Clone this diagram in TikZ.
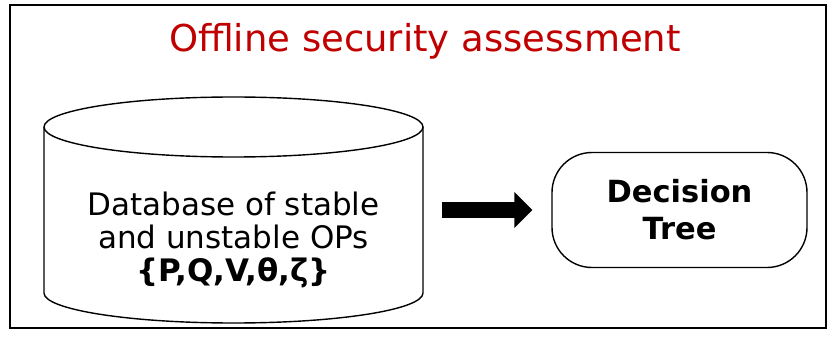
\documentclass[tikz,border=0pt]{standalone}
\usepackage{fontspec}
\setmainfont{DejaVu Sans}
\usetikzlibrary{arrows.meta}
\definecolor{titlered}{HTML}{C00000}
\tikzset{
  frame/.style={draw=black, line width=1.5pt},
  outline/.style={draw=black, line width=1.4pt},
  bodytext/.style={align=center, font=\fontsize{31}{33}\selectfont, inner sep=0pt},
  boldtext/.style={align=center, font=\fontsize{30.5}{37}\selectfont\bfseries, inner sep=0pt},
  bigarrow/.style={line width=16pt, -{Triangle[length=18pt,width=35pt]}},
}
\begin{document}
\begin{tikzpicture}[x=1pt,y=-1pt]
\useasboundingbox (0,0) rectangle (833,339);
% outer frame
\draw[frame] (10,5) rectangle (826,328);
% title
\node[text=titlered, font=\fontsize{37}{42}\selectfont, anchor=base] (title) at (425,52) {Offline security assessment};
% database cylinder: body with front arc of the base, then the top ellipse
\draw[outline, fill=white] (44,127) -- (44,293) arc[start angle=180, end angle=0, x radius=189.5, y radius=30] -- (423,127);
\draw[outline, fill=white] (233.5,127) ellipse[x radius=189.5, y radius=30];
\coordinate (cylE) at (423,210);
\node[bodytext] (db) at (233.5,240) {Database of stable\\and unstable OPs\\\textbf{\{P,Q,V,θ,ζ\}}};
% decision tree box
\node[outline, rounded corners=40pt, minimum width=255pt, minimum height=115pt, boldtext] (dt) at (679.5,210) {Decision\\Tree};
% arrow
\draw[bigarrow, shorten <=19pt, shorten >=19pt] (cylE) -- (cylE -| dt.west);
\end{tikzpicture}
\end{document}
